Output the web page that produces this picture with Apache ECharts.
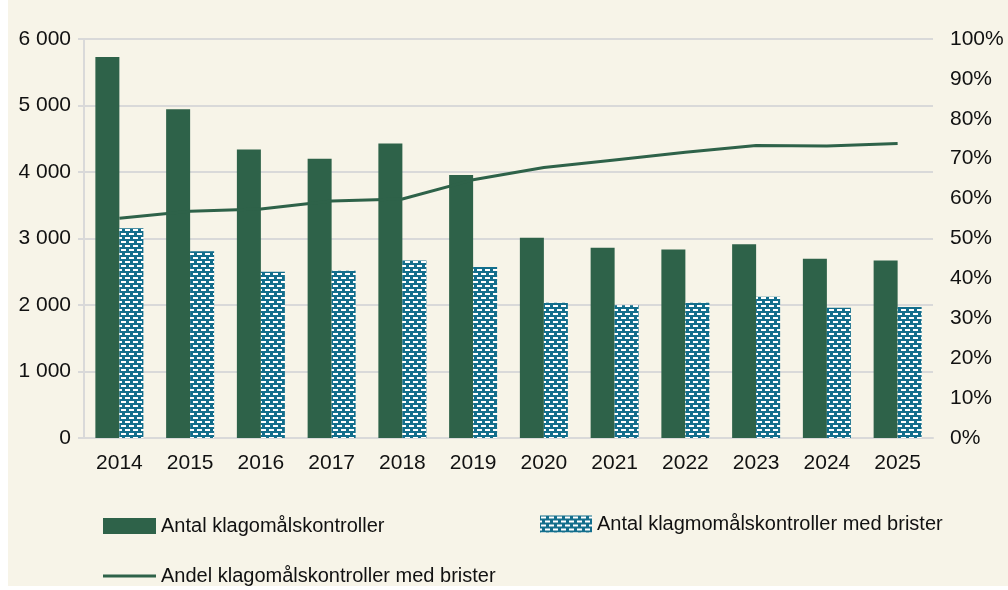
<!DOCTYPE html>
<html>
<head>
<meta charset="utf-8">
<script src="https://cdn.jsdelivr.net/npm/echarts@6/dist/echarts.min.js"></script>
<style>
  html, body { margin: 0; padding: 0; background: #fff; }
  #chart {
    width: 1008px;
    height: 590px;
    background: linear-gradient(#f7f4e8, #f7f4e8) 8px 0 / 1000px 586px no-repeat, #fff;
  }
</style>
</head>
<body>
<div id="chart"></div>
<script>
// år
const years = ['2014', '2015', '2016', '2017', '2018', '2019', '2020', '2021', '2022', '2023', '2024', '2025']
// antal klagomålskontroller
const antal = [5730, 4945, 4340, 4200, 4430, 3955, 3010, 2860, 2835, 2915, 2695, 2670]
// antal med brister
const antalBrister = [3155, 2810, 2500, 2515, 2670, 2570, 2035, 1995, 2035, 2125, 1960, 1970]
// andel med brister (%)
const andel = [55.1, 56.8, 57.4, 59.4, 59.9, 64.7, 67.8, 69.7, 71.6, 73.3, 73.2, 73.8]

const green = '#2e6249'
const teal = '#136e8c'
const grey = '#d9d9d9'
const font = '"Liberation Sans", Arial, sans-serif'

// mönster för "med brister" (vita streck på blågrönt)
function makePattern() {
  const c = document.createElement('canvas')
  c.width = 8
  c.height = 8
  const ctx = c.getContext('2d')
  ctx.fillStyle = teal
  ctx.fillRect(0, 0, 8, 8)
  ctx.fillStyle = '#ffffff'
  ctx.fillRect(1, 1, 5, 2)
  ctx.fillRect(5, 5, 3, 2)
  ctx.fillRect(0, 5, 2, 2)
  return c
}
const pattern = { image: makePattern(), repeat: 'repeat' }

const chart = echarts.init(document.getElementById('chart'), null, { renderer: 'canvas' })

const legendText = { fontFamily: font, fontSize: 20, color: '#111' }

chart.setOption({
  animation: false,
  textStyle: { fontFamily: font },
  grid: { left: 84, right: 75, top: 39, bottom: 152 },
  legend: [
    {
      left: 103, top: 516, padding: 0,
      icon: 'rect',
      itemWidth: 53, itemHeight: 16,
      textStyle: legendText,
      data: ['Antal klagomålskontroller']
    },
    {
      left: 540, top: 514, padding: 0,
      icon: 'rect',
      itemWidth: 52, itemHeight: 17,
      textStyle: legendText,
      data: ['Antal klagmomålskontroller med brister']
    },
    {
      left: 103, top: 566, padding: 0,
      icon: 'rect',
      itemWidth: 53, itemHeight: 3,
      textStyle: legendText,
      data: ['Andel klagomålskontroller med brister']
    }
  ],
  xAxis: {
    type: 'category',
    data: years,
    axisLine: { lineStyle: { color: grey, width: 2 } },
    axisTick: { show: false },
    axisLabel: { fontSize: 21, color: '#111', margin: 15 }
  },
  yAxis: [
    {
      type: 'value',
      min: 0,
      max: 6000,
      interval: 1000,
      axisLine: { show: true, lineStyle: { color: grey, width: 2 } },
      axisTick: { show: true, length: 6, lineStyle: { color: grey, width: 2 } },
      splitLine: { lineStyle: { color: grey, width: 2 } },
      axisLabel: {
        fontSize: 21,
        color: '#111',
        margin: 13,
        formatter: v => String(v).replace(/\B(?=(\d{3})+(?!\d))/g, ' ')
      }
    },
    {
      type: 'value',
      min: 0,
      max: 100,
      interval: 10,
      axisLine: { show: false },
      axisTick: { show: false },
      splitLine: { show: false },
      axisLabel: { fontSize: 21, color: '#111', margin: 17, formatter: '{value}%' }
    }
  ],
  series: [
    {
      name: 'Antal klagomålskontroller',
      type: 'bar',
      data: antal,
      barWidth: 24,
      barGap: '0%',
      itemStyle: { color: green }
    },
    {
      name: 'Antal klagmomålskontroller med brister',
      type: 'bar',
      data: antalBrister,
      barWidth: 24,
      barGap: '0%',
      itemStyle: { color: pattern }
    },
    {
      name: 'Andel klagomålskontroller med brister',
      type: 'line',
      yAxisIndex: 1,
      data: andel,
      symbol: 'none',
      lineStyle: { color: green, width: 3 },
      itemStyle: { color: green }
    }
  ]
})
</script>
</body>
</html>
